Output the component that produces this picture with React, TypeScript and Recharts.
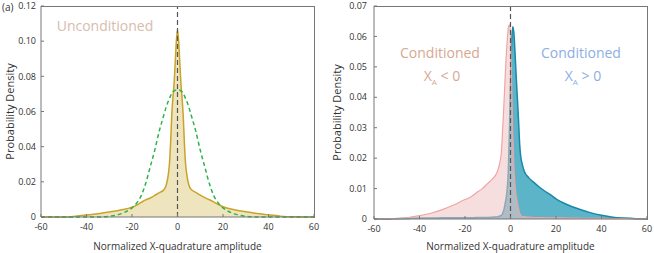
import React from "react";
import {
  ComposedChart,
  Area,
  Line,
  XAxis,
  YAxis,
  ReferenceLine,
} from "recharts";

// left panel: unconditioned distribution + gaussian reference
const leftX = [
  -60, -50, -45, -40, -35, -30, -25, -20, -18, -16, -14, -12, -10, -8, -6, -5,
  -4, -3.5, -3, -2.5, -2, -1.5, -1, -0.5, 0, 0.5, 1, 1.5, 2, 2.5, 3, 3.5, 4, 5,
  6, 8, 10, 12, 14, 16, 18, 20, 25, 30, 35, 40, 45, 50, 60,
];
const unconditioned = [
  0, 0, 0.0004, 0.0011, 0.0019, 0.0029, 0.004, 0.0056, 0.0068, 0.0083, 0.0097,
  0.0108, 0.0123, 0.0138, 0.0155, 0.018, 0.0245, 0.031, 0.043, 0.0586, 0.068,
  0.076, 0.088, 0.1, 0.1065, 0.1, 0.088, 0.076, 0.068, 0.058, 0.043, 0.031,
  0.025, 0.0182, 0.0157, 0.014, 0.0124, 0.011, 0.0098, 0.0085, 0.0071, 0.0058,
  0.0041, 0.003, 0.002, 0.0012, 0.0005, 0.0001, 0,
];
const gaussian = [
  0, 0, 0, 0, 0, 0.0004, 0.0018, 0.0052, 0.0078, 0.012, 0.019, 0.0285, 0.038,
  0.049, 0.058, 0.0625, 0.066, 0.0675, 0.069, 0.0702, 0.0712, 0.0717, 0.0721,
  0.0723, 0.0724, 0.0723, 0.0721, 0.0717, 0.0712, 0.0702, 0.069, 0.0675, 0.066,
  0.0625, 0.058, 0.049, 0.038, 0.0285, 0.019, 0.012, 0.0078, 0.0052, 0.0018,
  0.0004, 0, 0, 0, 0, 0,
];

// right panel: conditioned on X_A sign
const rightX = [
  -60, -55, -50, -45, -40, -35, -30, -25, -20, -17.5, -15, -12.5, -10, -8, -6,
  -5, -4, -3.5, -3, -2.5, -2, -1.5, -1, -0.5, 0, 0.5, 1, 1.5, 2, 2.5, 3, 3.5, 4,
  4.5, 5, 6, 8, 10, 12.5, 15, 17.5, 20, 25, 30, 35, 40, 45, 50, 55, 60,
];
const condNeg = [
  0, 0.0001, 0.0002, 0.0005, 0.0011, 0.0019, 0.0031, 0.0046, 0.0064, 0.0072,
  0.0086, 0.0099, 0.0117, 0.0131, 0.0152, 0.0175, 0.022, 0.029, 0.036, 0.044,
  0.052, 0.058, 0.0625, 0.0638, 0.061, 0.045, 0.028, 0.017, 0.011, 0.0075,
  0.0055, 0.0035, 0.002, 0.0013, 0.0009, 0.0008, 0.0006, 0.0005, 0.0005,
  0.0004, 0.0004, 0.0004, 0.0003, 0.0003, 0.0002, 0.0002, 0.0001, 0.0001, 0, 0,
];
const condPos = [
  0, 0, 0.0001, 0.0002, 0.0003, 0.0003, 0.0004, 0.0004, 0.0004, 0.0004, 0.0005,
  0.0005, 0.0005, 0.0006, 0.0007, 0.0009, 0.0012, 0.0018, 0.0028, 0.0045,
  0.0065, 0.0095, 0.015, 0.028, 0.045, 0.058, 0.0632, 0.061, 0.0545, 0.047,
  0.04, 0.033, 0.025, 0.0205, 0.0185, 0.0158, 0.0136, 0.0122, 0.0106, 0.0092,
  0.008, 0.0066, 0.0047, 0.0033, 0.0021, 0.0012, 0.0006, 0.0003, 0.0001, 0,
];

const xTicks = [-60, -40, -20, 0, 20, 40, 60];
const leftYTicks = [0, 0.02, 0.04, 0.06, 0.08, 0.1, 0.12];
const rightYTicks = [0, 0.01, 0.02, 0.03, 0.04, 0.05, 0.06, 0.07];

const leftData = leftX.map((x, i) => ({ x, u: unconditioned[i], g: gaussian[i] }));
const rightData = rightX.map((x, i) => ({ x, neg: condNeg[i], pos: condPos[i] }));

const fmtY = (v: number) => (v === 0 ? "0" : v.toFixed(2));
const spine = "#777";
const tickStyle = { fill: "#333", fontSize: 9 };
const axisLabel = "Normalized X-quadrature amplitude";

const note = (
  text: React.ReactNode,
  left: number,
  top: number,
  color: string
) => (
  <div
    style={{
      position: "absolute",
      left: left - 60,
      top: top - 10,
      width: 120,
      height: 20,
      lineHeight: "20px",
      textAlign: "center",
      fontSize: 14,
      color,
      whiteSpace: "nowrap",
    }}
  >
    {text}
  </div>
);

// top and right spines of a plot box
const box = (left: number, top: number, right: number, bottom: number) => (
  <div
    style={{
      position: "absolute",
      zIndex: 2,
      left,
      top,
      width: right - left,
      height: bottom - top,
      borderTop: `1px solid ${spine}`,
      borderRight: `1px solid ${spine}`,
      boxSizing: "border-box",
      pointerEvents: "none",
    }}
  />
);

export default function App() {
  return (
    <div
      style={{
        position: "absolute",
        left: 0,
        top: 0,
        width: 654,
        height: 253,
        background: "#fff",
        fontFamily: "'Open Sans', sans-serif",
      }}
    >
      <div style={{ position: "absolute", left: 0, top: 0 }}>
        <ComposedChart
          width={327}
          height={253}
          data={leftData}
          margin={{ top: 6, right: 13, bottom: 0, left: 0 }}
        >
          <XAxis
            dataKey="x"
            type="number"
            domain={[-60, 60]}
            ticks={xTicks}
            height={36}
            tickSize={-3}
            tickMargin={10}
            tick={tickStyle}
            stroke={spine}
            label={{ value: axisLabel, position: "insideBottom", offset: 3, fill: "#333", fontSize: 10 }}
          />
          <YAxis
            type="number"
            domain={[0, 0.12]}
            ticks={leftYTicks}
            tickFormatter={fmtY}
            width={41}
            tickSize={-3}
            tickMargin={8}
            tick={tickStyle}
            stroke={spine}
            label={{
              value: "Probability Density",
              angle: -90,
              position: "insideLeft",
              offset: 10,
              fill: "#333",
              fontSize: 11,
              style: { textAnchor: "middle" },
            }}
          />
          <Area
            type="monotone"
            dataKey="u"
            stroke="#c9a32a"
            strokeWidth={1.5}
            fill="#eee4be"
            fillOpacity={1}
            isAnimationActive={false}
          />
          <Line
            type="monotone"
            dataKey="g"
            stroke="#2db34a"
            strokeWidth={1.5}
            strokeDasharray="4 3"
            dot={false}
            isAnimationActive={false}
          />
          <ReferenceLine x={0} stroke="#555" strokeDasharray="5 3" strokeWidth={1.2} />
        </ComposedChart>
      </div>

      <div style={{ position: "absolute", left: 327, top: 0 }}>
        <ComposedChart
          width={327}
          height={253}
          data={rightData}
          margin={{ top: 6, right: 7, bottom: 0, left: 0 }}
        >
          <XAxis
            dataKey="x"
            type="number"
            domain={[-60, 60]}
            ticks={xTicks}
            height={34}
            tickSize={-3}
            tickMargin={10}
            tick={tickStyle}
            stroke={spine}
            label={{ value: axisLabel, position: "insideBottom", offset: 3, fill: "#333", fontSize: 10 }}
          />
          <YAxis
            type="number"
            domain={[0, 0.07]}
            ticks={rightYTicks}
            tickFormatter={fmtY}
            width={47}
            tickSize={-3}
            tickMargin={10}
            tick={tickStyle}
            stroke={spine}
            label={{
              value: "Probability Density",
              angle: -90,
              position: "insideLeft",
              offset: 10,
              fill: "#333",
              fontSize: 11,
              style: { textAnchor: "middle" },
            }}
          />
          <Area
            type="monotone"
            dataKey="pos"
            stroke="#1a88a8"
            strokeWidth={1.5}
            fill="#5cb4c8"
            fillOpacity={1}
            isAnimationActive={false}
          />
          <Area
            type="monotone"
            dataKey="neg"
            stroke="#f0a4a4"
            strokeWidth={1.2}
            fill="#f0c3c3"
            fillOpacity={0.55}
            isAnimationActive={false}
          />
          <ReferenceLine x={0} stroke="#555" strokeDasharray="5 3" strokeWidth={1.2} />
        </ComposedChart>
      </div>

      {box(41, 6, 315, 218)}
      {box(374, 6, 648, 220)}

      <div style={{ position: "absolute", left: 2, top: 0, fontSize: 10, color: "#333" }}>(a)</div>
      {note("Unconditioned", 105, 26, "#d6bcae")}
      {note("Conditioned", 440, 53, "#d6a892")}
      {note(
        <span>
          X<sub style={{ fontSize: 8 }}>A</sub> &lt; 0
        </span>,
        442,
        76,
        "#d6a892"
      )}
      {note("Conditioned", 581, 53, "#8caee6")}
      {note(
        <span>
          X<sub style={{ fontSize: 8 }}>A</sub> &gt; 0
        </span>,
        583,
        76,
        "#8caee6"
      )}
    </div>
  );
}
